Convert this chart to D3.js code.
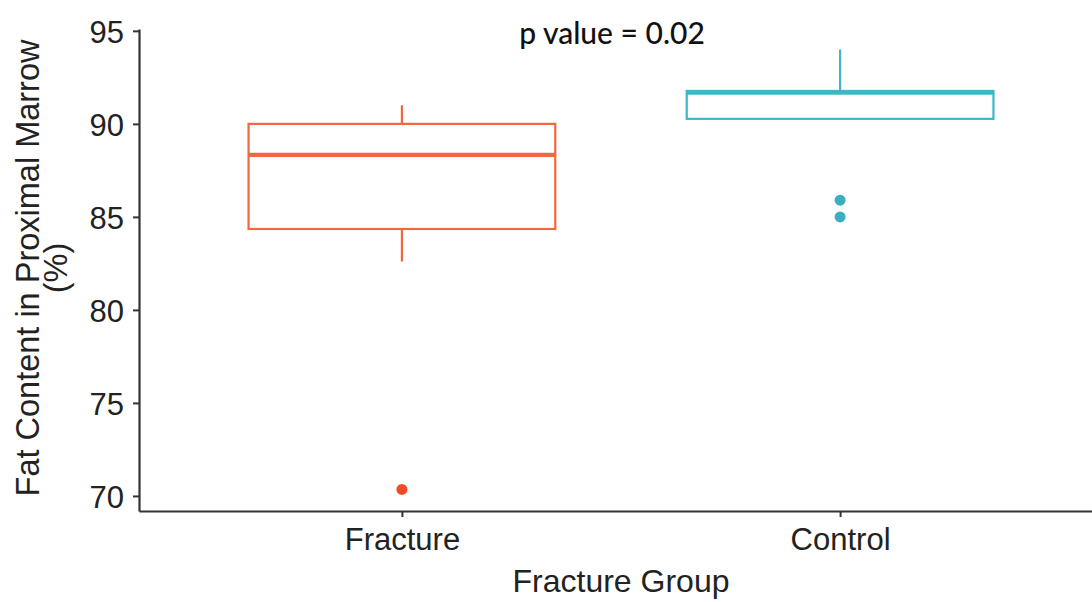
<!DOCTYPE html>
<html lang="en">
<head>
<meta charset="UTF-8">
<title>Fat content box plot</title>
<script src="https://d3js.org/d3.v7.min.js"></script>
<style>
  body { margin: 0; background: #fff; }
  svg { display: block; }
  text { font-family: "Liberation Sans", Arial, sans-serif; fill: #222; }
</style>
</head>
<body>
<svg id="chart" width="1092" height="602"></svg>
<script>
// data
const groups = ["Fracture", "Control"];
const whiskerLow = [82.6, 90.27];
const q1 = [84.35, 90.27];
const median = [88.33, 91.68];
const q3 = [90.0, 91.77];
const whiskerHigh = [91.0, 94.0];
const outliers = [[70.35], [85.9, 85.0]];
const yTicks = [70, 75, 80, 85, 90, 95];
const colors = ["#f4673d", "#3fb6c4"];
const pointColors = ["#ee4b2b", "#3aafbf"];

const svg = d3.select("#chart");

const x = d3.scalePoint()
    .domain(groups)
    .range([139, 1103])
    .padding(0.6);

const y = d3.scaleLinear()
    .domain([69.19, 95.1])
    .range([511, 29]);

const boxW = x.step() * 0.7;

// axes
const yAxis = svg.append("g")
    .attr("transform", "translate(139,0)")
    .call(d3.axisLeft(y).tickValues(yTicks).tickSize(6).tickSizeOuter(0).tickPadding(9));
const xAxis = svg.append("g")
    .attr("transform", "translate(0,511)")
    .call(d3.axisBottom(x).tickSize(6).tickSizeOuter(0).tickPadding(6));

[yAxis, xAxis].forEach(ax => {
    ax.select(".domain").attr("stroke", "#333").attr("stroke-width", 2.2);
    ax.selectAll(".tick line").attr("stroke", "#333").attr("stroke-width", 2);
    ax.selectAll(".tick text").attr("fill", "#222")
        .style("font-family", "'Liberation Sans', Arial, sans-serif")
        .style("font-size", "31px");
});
yAxis.selectAll(".tick text").attr("dy", "0.36em");
xAxis.selectAll(".tick text").attr("dy", "0.88em");

// boxes
const data = groups.map((g, i) => ({
    g, i, lo: whiskerLow[i], q1: q1[i], med: median[i], q3: q3[i], hi: whiskerHigh[i], out: outliers[i]
}));

const box = svg.append("g").selectAll("g")
    .data(data)
    .join("g")
    .attr("stroke", d => colors[d.i])
    .attr("fill", "none");

box.append("line")
    .attr("x1", d => x(d.g)).attr("x2", d => x(d.g))
    .attr("y1", d => y(d.hi)).attr("y2", d => y(d.q3))
    .attr("stroke-width", 2.2);
box.append("line")
    .attr("x1", d => x(d.g)).attr("x2", d => x(d.g))
    .attr("y1", d => y(d.q1)).attr("y2", d => y(d.lo))
    .attr("stroke-width", 2.2);
box.append("rect")
    .attr("x", d => x(d.g) - boxW / 2)
    .attr("width", boxW)
    .attr("y", d => y(d.q3))
    .attr("height", d => y(d.q1) - y(d.q3))
    .attr("fill", "#fff")
    .attr("stroke-width", 2.2);
box.append("line")
    .attr("x1", d => x(d.g) - boxW / 2).attr("x2", d => x(d.g) + boxW / 2)
    .attr("y1", d => y(d.med)).attr("y2", d => y(d.med))
    .attr("stroke-width", 4.2);

box.selectAll("circle")
    .data(d => d.out.map(v => ({ v, g: d.g, i: d.i })))
    .join("circle")
    .attr("cx", d => x(d.g))
    .attr("cy", d => y(d.v))
    .attr("r", 5.5)
    .attr("stroke", "none")
    .attr("fill", d => pointColors[d.i]);

// annotation
svg.append("text")
    .attr("x", 612)
    .attr("y", 44)
    .attr("text-anchor", "middle")
    .style("font-family", "Lato, 'Open Sans', sans-serif")
    .style("font-size", "30px")
    .style("font-weight", 500)
    .style("fill", "#111")
    .text("p value = 0.02");

// axis titles
svg.append("text")
    .attr("x", 621)
    .attr("y", 592)
    .attr("text-anchor", "middle")
    .style("font-size", "32px")
    .text("Fracture Group");

const yt = svg.append("text")
    .attr("transform", "translate(39,268) rotate(-90)")
    .attr("text-anchor", "middle")
    .style("font-size", "32.5px");
yt.append("tspan").attr("x", 0).attr("dy", 0).text("Fat Content in Proximal Marrow");
yt.append("tspan").attr("x", 0).attr("dy", 28).text("(%)");
</script>
</body>
</html>
